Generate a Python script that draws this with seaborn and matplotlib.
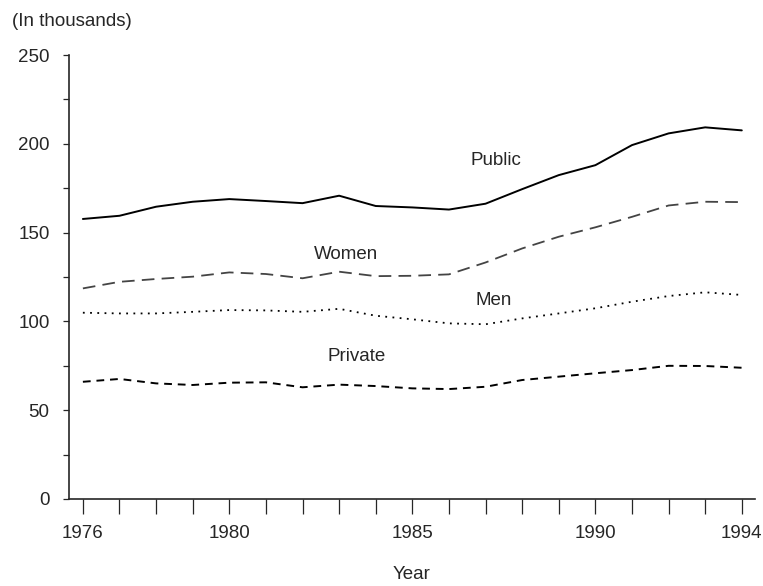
import matplotlib
matplotlib.use("Agg")
import matplotlib.pyplot as plt
from matplotlib.ticker import MultipleLocator
import seaborn as sns
import numpy as np
import pandas as pd

# Values (thousands)
years = list(range(1976, 1995))
public = [157.7, 159.5, 164.6, 167.4, 168.9, 167.8, 166.6, 170.8, 165.0, 164.2,
          163.0, 166.3, 174.5, 182.4, 188.0, 199.3, 205.9, 209.3, 207.6]
women = [118.6, 122.3, 123.9, 125.2, 127.6, 126.7, 124.3, 128.0, 125.5, 125.7,
         126.5, 133.2, 141.1, 147.7, 153.0, 158.9, 165.3, 167.4, 167.2]
men = [104.9, 104.5, 104.5, 105.4, 106.4, 106.2, 105.4, 107.1, 103.2, 101.2,
       98.9, 98.4, 101.7, 104.5, 107.4, 111.1, 114.3, 116.4, 114.9]
private = [66.0, 67.6, 65.1, 64.2, 65.5, 65.7, 62.9, 64.4, 63.6, 62.3,
           61.9, 63.2, 67.0, 68.9, 70.8, 72.6, 75.0, 74.9, 73.9]

series_names = ["Public", "Women", "Men", "Private"]

sns.set_style("ticks")
plt.rcParams["font.family"] = ["Liberation Sans", "DejaVu Sans"]
FS = 13.5
plt.rcParams["font.size"] = FS

fig = plt.figure(figsize=(7.63, 5.86), dpi=100)
ax = fig.add_axes([0.0904, 0.1485, 0.8991, 0.7575])

styles = {
    "Public": dict(color="black", linestyle="-", linewidth=1.4),
    "Women": dict(color="#444444", linestyle=(0, (7, 4)), linewidth=1.3),
    "Men": dict(color="black", linestyle=(0, (1, 3)), linewidth=1.3),
    "Private": dict(color="black", linestyle=(0, (4, 3)), linewidth=1.4),
}
data = {"Public": public, "Women": women, "Men": men, "Private": private}

for name in series_names:
    df = pd.DataFrame({"year": years, "value": data[name]})
    sns.lineplot(data=df, x="year", y="value", ax=ax, **styles[name])

# inline labels
label_pos = {"Public": (1987.28, 190.9), "Women": (1983.18, 137.9),
             "Men": (1987.23, 112.0), "Private": (1983.48, 80.5)}
for name, (lx, ly) in label_pos.items():
    ax.text(lx, ly, name, ha="center", va="center", fontsize=FS)

ax.set_xlim(1975.62, 1994.36)
ax.set_ylim(0, 250)
ax.set_xticks([1976, 1980, 1985, 1990, 1994])
ax.xaxis.set_minor_locator(MultipleLocator(1))
ax.yaxis.set_major_locator(MultipleLocator(50))
ax.yaxis.set_minor_locator(MultipleLocator(25))
ax.tick_params(axis="x", which="both", direction="out", length=11, width=0.9, pad=8)
ax.tick_params(axis="y", which="both", direction="out", length=4, width=0.9, pad=10)
ax.tick_params(labelsize=FS)
for s in ["top", "right"]:
    ax.spines[s].set_visible(False)
ax.spines["left"].set_linewidth(1.2)
ax.spines["bottom"].set_linewidth(1.2)

ax.set_xlabel("Year", fontsize=FS, labelpad=17)
ax.set_ylabel("")
fig.text(12 / 763, 1 - 22 / 586, "(In thousands)", ha="left", va="center", fontsize=FS)

fig.savefig("out.png", dpi=100)
